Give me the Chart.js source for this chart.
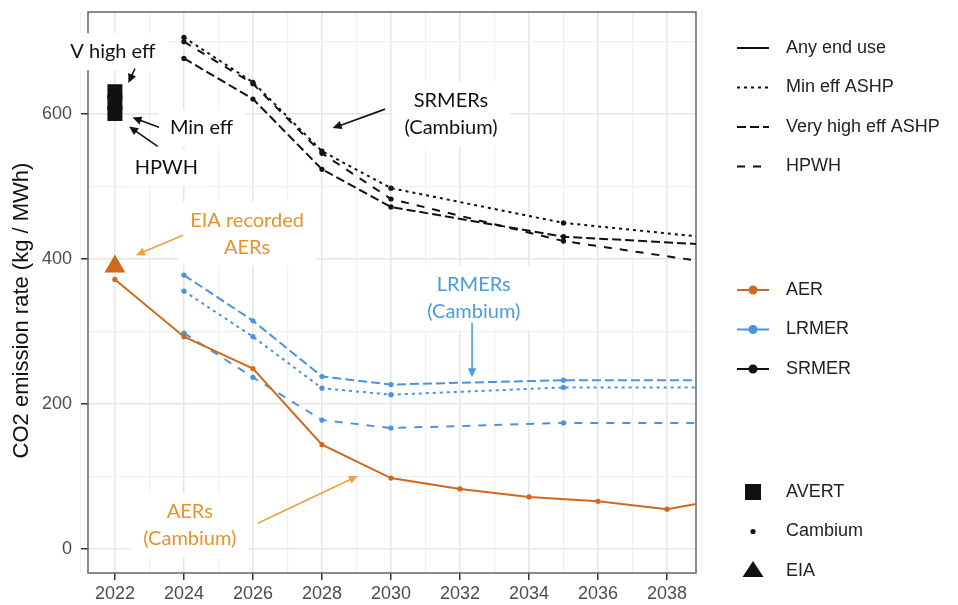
<!DOCTYPE html>
<html>
<head>
<meta charset="utf-8">
<title>CO2 emission rates</title>
<script src="https://cdn.jsdelivr.net/npm/chart.js@4.4.0/dist/chart.umd.min.js"></script>
<style>
  html, body { margin: 0; padding: 0; background: #fff; }
  #wrap { width: 958px; height: 605px; }
</style>
</head>
<body>
<div id="wrap"><canvas id="emissionChart" width="958" height="605"></canvas></div>
<script>
// Average emission rates (kg CO2 / MWh), Cambium projections
const aerYears = [2022, 2024, 2026, 2028, 2030, 2032, 2034, 2036, 2038, 2040];
const aerCambium = [372, 293, 249, 144, 98, 83, 72, 66, 55, 72];

// Marginal emission rates by end use
const marginalYears = [2024, 2026, 2028, 2030, 2035, 2040];
const lrmerMinEff = [356, 293, 222, 213, 223, 223];
const lrmerVeryHighEff = [378, 315, 238, 227, 233, 233];
const lrmerHpwh = [298, 237, 178, 167, 174, 174];
const srmerMinEff = [706, 644, 549, 498, 450, 426];
const srmerVeryHighEff = [677, 621, 524, 472, 431, 418];
const srmerHpwh = [700, 642, 546, 483, 425, 390];

// AVERT SRMERs for 2022 (V high eff, Min eff, HPWH) and the EIA recorded AER
const avertYear = 2022;
const avertLabels = ['V high eff', 'Min eff', 'HPWH'];
const avertSrmer = [631, 616, 601];
const eiaYear = 2022;
const eiaAer = 390;

const xTickYears = [2022, 2024, 2026, 2028, 2030, 2032, 2034, 2036, 2038];
const yTickValues = [0, 200, 400, 600];

const endUseLabels = ['Any end use', 'Min eff ASHP', 'Very high eff ASHP', 'HPWH'];
const metricLabels = ['AER', 'LRMER', 'SRMER'];
const sourceLabels = ['AVERT', 'Cambium', 'EIA'];

const INK = '#111111';
const AER_COLOR = '#D0691C';
const LRMER_COLOR = '#4A93E0';
const SRMER_COLOR = '#111111';
const AER_TEXT = '#E8912F';
const AER_ARROW = '#F0A040';
const LRMER_TEXT = '#4A9BE0';
const AXIS_FONT = '"Liberation Sans", Arial, sans-serif';
const NOTE_FONT = 'Lato, "Open Sans", sans-serif';

const DASH = {
  any: [],
  minEff: [3, 4],
  veryHighEff: [9, 4],
  hpwh: [8, 8]
};
const endUseDashes = [DASH.any, DASH.minEff, DASH.veryHighEff, DASH.hpwh];

// minor grid lines sit halfway between labelled ticks
const midpoints = arr => arr.map((v, i) => i ? (v + arr[i - 1]) / 2 : null).filter(v => v !== null);
const xMinor = [2021].concat(midpoints(xTickYears)).concat([2039]);
const yMinor = midpoints(yTickValues).concat([700]);

function pts(xs, ys) {
  return xs.map((x, i) => ({ x: x, y: ys[i] }));
}

function lineSet(label, xs, ys, color, dash) {
  return {
    label: label,
    data: pts(xs, ys),
    borderColor: color,
    backgroundColor: color,
    borderWidth: 2,
    borderDash: dash,
    tension: 0,
    fill: false,
    pointRadius: 2.6,
    pointHoverRadius: 2.6,
    pointBackgroundColor: color,
    pointBorderWidth: 0
  };
}

const isMajor = (ctx, majors) => ctx.tick && majors.includes(ctx.tick.value);

// text labels and their arrows, placed in data units
const notes = [
  { text: [avertLabels[0]], x: 2021.94, y: 686, color: INK },
  { text: [avertLabels[1]], x: 2024.51, y: 581, color: INK },
  { text: [avertLabels[2]], x: 2023.49, y: 526, color: INK },
  { text: ['SRMERs', '(Cambium)'], x: 2031.74, y: 600, color: INK },
  { text: ['EIA recorded', 'AERs'], x: 2025.83, y: 435, color: AER_TEXT },
  { text: ['LRMERs', '(Cambium)'], x: 2032.4, y: 346, color: LRMER_TEXT },
  { text: ['AERs', '(Cambium)'], x: 2024.17, y: 33.5, color: AER_TEXT }
];

const arrows = [
  { from: [2022.58, 663], to: [2022.39, 643], color: INK },
  { from: [2023.28, 582], to: [2022.51, 595.5], color: INK },
  { from: [2023.24, 555.7], to: [2022.41, 583], color: INK },
  { from: [2029.83, 607], to: [2028.31, 580.8], color: INK },
  { from: [2023.97, 433], to: [2022.61, 405.5], color: AER_ARROW },
  { from: [2032.35, 312], to: [2032.35, 237], color: LRMER_TEXT },
  { from: [2026.14, 35.6], to: [2029.04, 101], color: AER_ARROW }
];

function drawArrow(ctx, x0, y0, x1, y1, color) {
  const ang = Math.atan2(y1 - y0, x1 - x0);
  const len = 9, half = 4.2;
  ctx.strokeStyle = color;
  ctx.fillStyle = color;
  ctx.lineWidth = 1.6;
  ctx.setLineDash([]);
  ctx.beginPath();
  ctx.moveTo(x0, y0);
  ctx.lineTo(x1 - Math.cos(ang) * len * 0.8, y1 - Math.sin(ang) * len * 0.8);
  ctx.stroke();
  ctx.beginPath();
  ctx.moveTo(x1, y1);
  ctx.lineTo(x1 - Math.cos(ang) * len - Math.sin(ang) * half, y1 - Math.sin(ang) * len + Math.cos(ang) * half);
  ctx.lineTo(x1 - Math.cos(ang) * len + Math.sin(ang) * half, y1 - Math.sin(ang) * len - Math.cos(ang) * half);
  ctx.closePath();
  ctx.fill();
}

function roundRect(ctx, x, y, w, h, r) {
  ctx.beginPath();
  ctx.moveTo(x + r, y);
  ctx.arcTo(x + w, y, x + w, y + h, r);
  ctx.arcTo(x + w, y + h, x, y + h, r);
  ctx.arcTo(x, y + h, x, y, r);
  ctx.arcTo(x, y, x + w, y, r);
  ctx.closePath();
}

const panelBorder = {
  id: 'panelBorder',
  beforeDatasetsDraw(chart) {
    const { ctx, chartArea: a } = chart;
    ctx.save();
    ctx.strokeStyle = '#666';
    ctx.lineWidth = 1.5;
    ctx.strokeRect(a.left, a.top, a.right - a.left, a.bottom - a.top);
    ctx.restore();
  }
};

// rotated axis title beside the panel
const axisTitle = {
  id: 'axisTitle',
  afterDraw(chart) {
    const { ctx, chartArea: a } = chart;
    ctx.save();
    ctx.translate(22, (a.top + a.bottom) / 2 + 18);
    ctx.rotate(-Math.PI / 2);
    ctx.font = '22px ' + AXIS_FONT;
    ctx.fillStyle = INK;
    ctx.textAlign = 'center';
    ctx.textBaseline = 'middle';
    ctx.fillText('CO2 emission rate (kg / MWh)', 0, 0);
    ctx.restore();
  }
};

const callouts = {
  id: 'callouts',
  afterDatasetsDraw(chart) {
    const { ctx, scales: { x, y } } = chart;
    const lineH = 27;
    ctx.save();
    ctx.font = '20px ' + NOTE_FONT;
    ctx.textAlign = 'center';
    ctx.textBaseline = 'middle';
    // white label boxes first so they mask the grid
    notes.forEach(n => {
      const cx = x.getPixelForValue(n.x);
      const cy = y.getPixelForValue(n.y);
      const w = Math.max(...n.text.map(t => ctx.measureText(t).width)) + 24;
      const h = n.text.length * lineH + 10;
      ctx.fillStyle = '#fff';
      roundRect(ctx, cx - w / 2, cy - h / 2, w, h, 4);
      ctx.fill();
    });
    arrows.forEach(a => {
      drawArrow(ctx,
        x.getPixelForValue(a.from[0]), y.getPixelForValue(a.from[1]),
        x.getPixelForValue(a.to[0]), y.getPixelForValue(a.to[1]), a.color);
    });
    notes.forEach(n => {
      const cx = x.getPixelForValue(n.x);
      const cy = y.getPixelForValue(n.y);
      ctx.fillStyle = n.color;
      n.text.forEach((t, i) => {
        ctx.fillText(t, cx, cy + (i - (n.text.length - 1) / 2) * lineH);
      });
    });
    ctx.restore();
  }
};

// three-part legend on the right: line type, metric colour, data source
const sideLegend = {
  id: 'sideLegend',
  afterDraw(chart) {
    const ctx = chart.ctx;
    const keyL = 737, keyR = 769, keyC = 753, textX = 786, step = 39.5;
    ctx.save();
    ctx.font = '18px ' + AXIS_FONT;
    ctx.textBaseline = 'middle';
    ctx.textAlign = 'left';

    endUseLabels.forEach((label, i) => {
      const yy = 48 + i * step;
      ctx.strokeStyle = INK;
      ctx.lineWidth = 2;
      ctx.setLineDash(endUseDashes[i]);
      ctx.beginPath();
      ctx.moveTo(keyL, yy);
      ctx.lineTo(keyR, yy);
      ctx.stroke();
      ctx.setLineDash([]);
      ctx.fillStyle = '#222';
      ctx.fillText(label, textX, yy);
    });

    const metricColors = [AER_COLOR, LRMER_COLOR, SRMER_COLOR];
    metricLabels.forEach((label, i) => {
      const yy = 290 + i * step;
      ctx.strokeStyle = metricColors[i];
      ctx.fillStyle = metricColors[i];
      ctx.lineWidth = 2;
      ctx.beginPath();
      ctx.moveTo(keyL, yy);
      ctx.lineTo(keyR, yy);
      ctx.stroke();
      ctx.beginPath();
      ctx.arc(keyC, yy, 4.5, 0, Math.PI * 2);
      ctx.fill();
      ctx.fillStyle = '#222';
      ctx.fillText(label, textX, yy);
    });

    sourceLabels.forEach((label, i) => {
      const yy = 492 + i * step;
      ctx.fillStyle = INK;
      ctx.beginPath();
      if (i === 0) {
        ctx.rect(keyC - 8, yy - 8, 16, 16);
      } else if (i === 1) {
        ctx.arc(keyC, yy, 2.6, 0, Math.PI * 2);
      } else {
        ctx.moveTo(keyC, yy - 10);
        ctx.lineTo(keyC + 10.5, yy + 6);
        ctx.lineTo(keyC - 10.5, yy + 6);
        ctx.closePath();
      }
      ctx.fill();
      ctx.fillStyle = '#222';
      ctx.fillText(label, textX, yy);
    });
    ctx.restore();
  }
};

const datasets = [
  lineSet('AER', aerYears, aerCambium, AER_COLOR, DASH.any),
  lineSet('LRMER Min eff ASHP', marginalYears, lrmerMinEff, LRMER_COLOR, DASH.minEff),
  lineSet('LRMER Very high eff ASHP', marginalYears, lrmerVeryHighEff, LRMER_COLOR, DASH.veryHighEff),
  lineSet('LRMER HPWH', marginalYears, lrmerHpwh, LRMER_COLOR, DASH.hpwh),
  lineSet('SRMER Min eff ASHP', marginalYears, srmerMinEff, SRMER_COLOR, DASH.minEff),
  lineSet('SRMER Very high eff ASHP', marginalYears, srmerVeryHighEff, SRMER_COLOR, DASH.veryHighEff),
  lineSet('SRMER HPWH', marginalYears, srmerHpwh, SRMER_COLOR, DASH.hpwh),
  {
    label: 'AVERT',
    data: pts(avertSrmer.map(() => avertYear), avertSrmer),
    showLine: false,
    pointStyle: 'rect',
    pointRadius: 10.6,
    pointHoverRadius: 10.6,
    pointBackgroundColor: INK,
    pointBorderWidth: 0
  },
  {
    label: 'EIA',
    data: [{ x: eiaYear, y: eiaAer }],
    showLine: false,
    pointStyle: 'triangle',
    pointRadius: 12,
    pointHoverRadius: 12,
    pointBackgroundColor: AER_COLOR,
    pointBorderWidth: 0
  }
];

new Chart(document.getElementById('emissionChart'), {
  type: 'line',
  data: { datasets: datasets },
  options: {
    responsive: false,
    animation: false,
    devicePixelRatio: 1,
    layout: { padding: { top: 4, right: 262, left: 0, bottom: 0 } },
    plugins: {
      legend: { display: false },
      tooltip: { enabled: false }
    },
    scales: {
      x: {
        type: 'linear',
        min: 2021.22,
        max: 2038.84,
        afterBuildTicks: s => { s.ticks = xTickYears.concat(xMinor).sort((a, b) => a - b).map(v => ({ value: v })); },
        afterFit: s => { s.height = 32; s.paddingLeft = 0; s.paddingRight = 0; },
        border: { display: false },
        grid: {
          color: ctx => isMajor(ctx, xTickYears) ? '#E6E6E6' : '#F0F0F0',
          lineWidth: ctx => isMajor(ctx, xTickYears) ? 1.5 : 1.2,
          tickLength: 7,
          tickColor: ctx => isMajor(ctx, xTickYears) ? '#333' : 'rgba(0,0,0,0)',
          tickWidth: 1.5
        },
        ticks: {
          autoSkip: false,
          maxRotation: 0,
          padding: 3,
          color: '#4d4d4d',
          font: { family: AXIS_FONT, size: 18 },
          callback: v => xTickYears.includes(v) ? String(v) : ''
        }
      },
      y: {
        type: 'linear',
        min: -33,
        max: 741,
        afterBuildTicks: s => { s.ticks = yTickValues.concat(yMinor).sort((a, b) => a - b).map(v => ({ value: v })); },
        afterFit: s => { s.width = 88; s.paddingTop = 0; s.paddingBottom = 0; },
        border: { display: false },
        grid: {
          color: ctx => isMajor(ctx, yTickValues) ? '#E6E6E6' : '#F0F0F0',
          lineWidth: ctx => isMajor(ctx, yTickValues) ? 1.5 : 1.2,
          tickLength: 7,
          tickColor: ctx => isMajor(ctx, yTickValues) ? '#333' : 'rgba(0,0,0,0)',
          tickWidth: 1.5
        },
        ticks: {
          padding: 9,
          color: '#4d4d4d',
          font: { family: AXIS_FONT, size: 18 },
          callback: v => yTickValues.includes(v) ? String(v) : ''
        }
      }
    }
  },
  plugins: [panelBorder, callouts, sideLegend, axisTitle]
});
</script>
</body>
</html>
